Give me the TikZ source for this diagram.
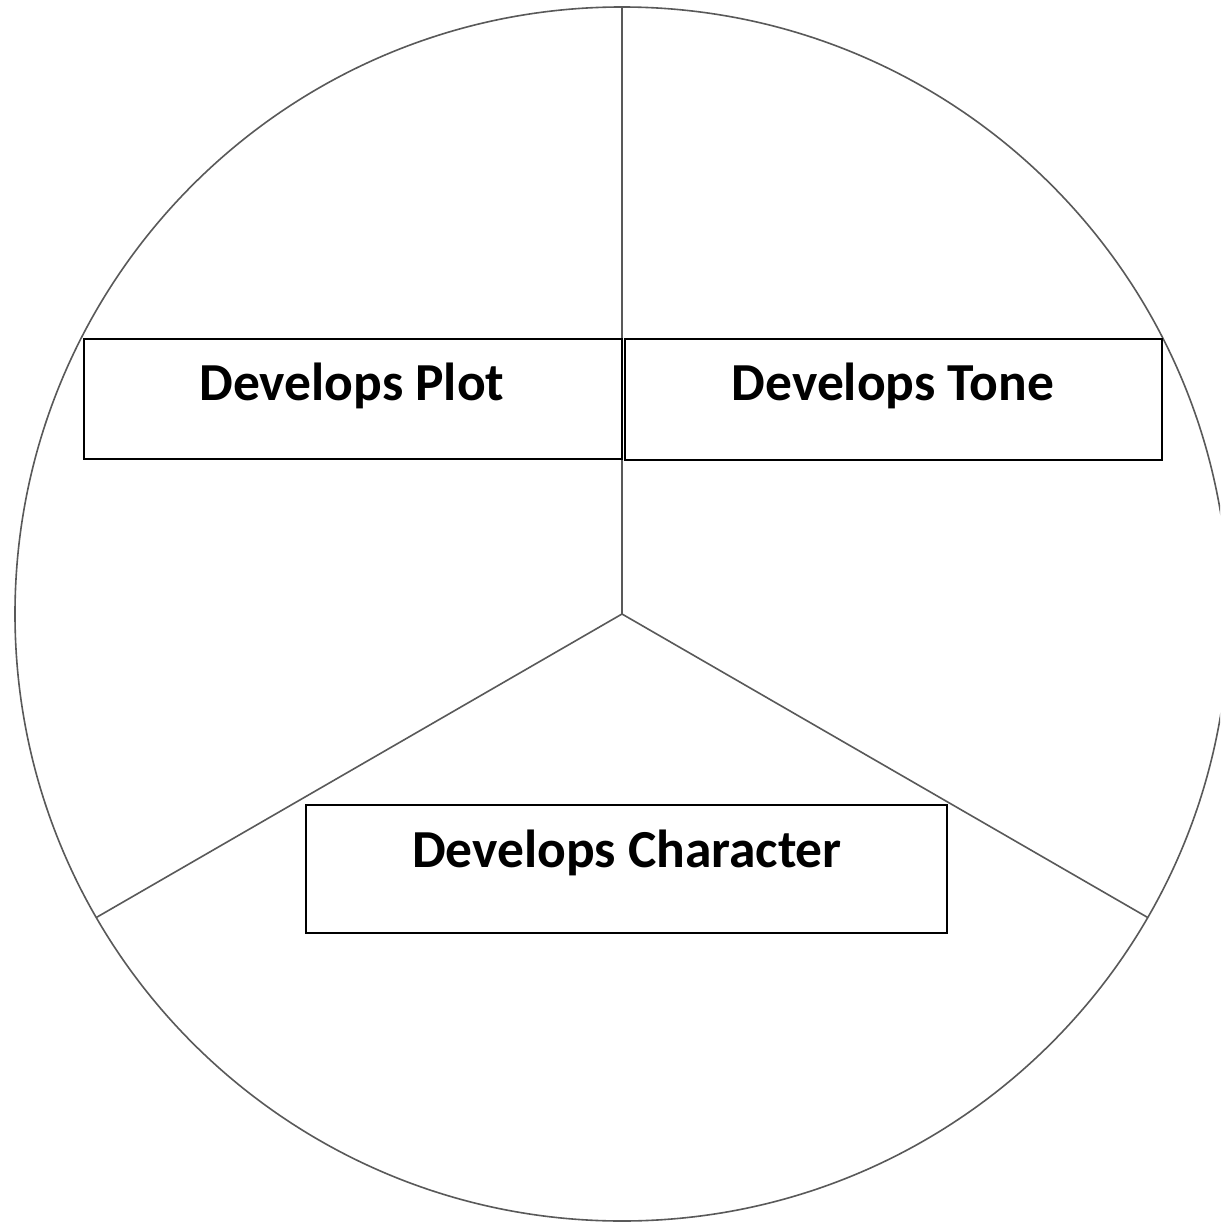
\documentclass[tikz,border=0pt]{standalone}
\usepackage{fontspec}
\setmainfont{Carlito}
\begin{document}
\begin{tikzpicture}[x=1pt,y=-1pt,
  divider/.style={draw=black!65, line width=1.6pt},
  box/.style={draw=black, line width=2pt, fill=white, rectangle, inner sep=0pt},
  lbl/.style={font=\fontsize{53.5}{64}\selectfont\bfseries, inner sep=0pt, anchor=base}]
\useasboundingbox (0,0) rectangle (1220,1222);
\clip (0,0) rectangle (1220,1222);
\fill[white] (0,0) rectangle (1220,1222);
\coordinate (o) at (622,614);
\coordinate (top) at (622,7);
\coordinate (left) at (96.3,917.5);
\coordinate (right) at (1147.7,917.5);
\draw[divider] (o) circle (607);
\draw[divider] (o) -- (top);
\draw[divider] (o) -- (left);
\draw[divider] (o) -- (right);
\node[box, minimum width=538, minimum height=120] (plotbox) at (353,399) {};
\node[box, minimum width=537, minimum height=121] (tonebox) at (893.5,399.5) {};
\node[box, minimum width=641, minimum height=128] (charbox) at (626.5,869) {};
\node[lbl] (plot) at (352,400) {Develops Plot};
\node[lbl] (tone) at (893,400) {Develops Tone};
\node[lbl] (char) at (627,867) {Develops Character};
\end{tikzpicture}
\end{document}
